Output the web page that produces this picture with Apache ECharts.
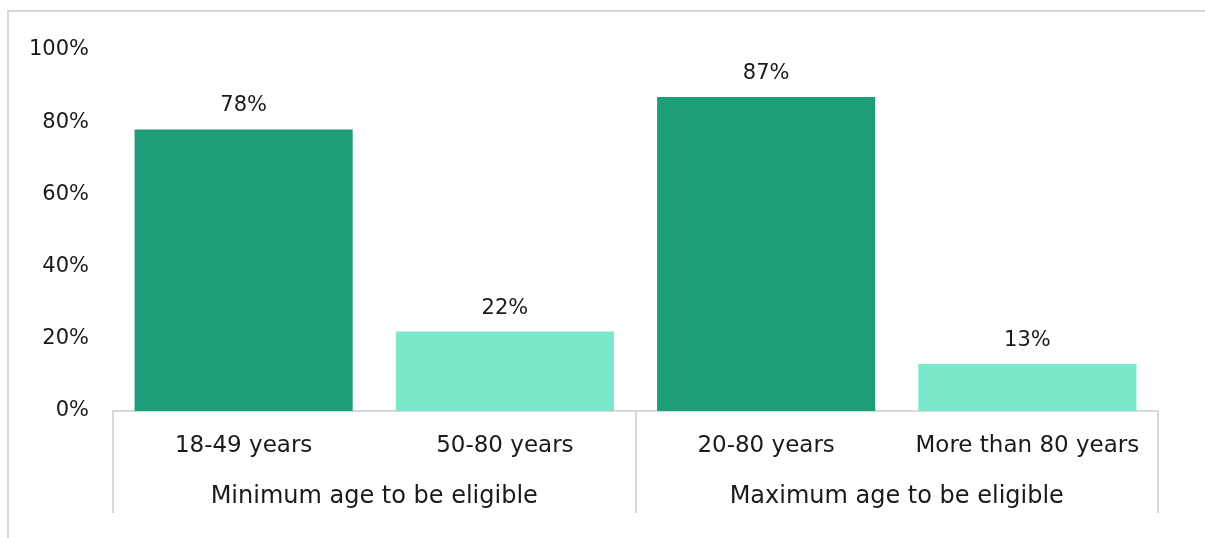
<!DOCTYPE html>
<html><head><meta charset="utf-8">
<script src="https://cdn.jsdelivr.net/npm/echarts@6/dist/echarts.min.js"></script>
<style>
html,body{margin:0;padding:0;background:#fff;overflow:hidden;}
#frame{position:absolute;left:7px;top:10px;width:1400px;height:600px;border:2px solid #D9D9D9;box-sizing:border-box;}
#c{position:absolute;left:0;top:0;width:1205px;height:538px;}
</style></head>
<body><div id="frame"></div><div id="c"></div>
<script>
const categories = ["18-49 years", "50-80 years", "20-80 years", "More than 80 years"];
const groups = ["Minimum age to be eligible", "Maximum age to be eligible"];
const values = [78, 22, 87, 13];
const yTicks = [0, 20, 40, 60, 80, 100];
const barColors = ["#1E9E78", "#7AE8C9", "#1E9E78", "#7AE8C9"];

const font = "DejaVu Sans";
const chart = echarts.init(document.getElementById('c'));
chart.setOption({
  animation: false,
  textStyle: {fontFamily: font},
  grid: {left: 113, right: 47, top: 50, bottom: 127},
  xAxis: [{
    type: 'category', data: categories, position: 'bottom',
    axisLine: {lineStyle: {color: '#D9D9D9', width: 2}},
    axisTick: {show: true, length: 102, interval: (i) => i % 2 === 0, lineStyle: {color: '#D9D9D9', width: 2}, alignWithLabel: false},
    axisLabel: {color: '#1a1a1a', fontSize: 23, fontFamily: font, margin: 24, interval: 0}
  }, {
    type: 'category', data: groups, position: 'bottom', offset: 74,
    axisLine: {show: false}, axisTick: {show: false},
    axisLabel: {color: '#1a1a1a', fontSize: 24, fontFamily: font, margin: 0, interval: 0}
  }],
  yAxis: {
    type: 'value', min: yTicks[0], max: yTicks[yTicks.length-1], interval: 20,
    axisLine: {show: false}, axisTick: {show: false}, splitLine: {show: false},
    axisLabel: {formatter: '{value}%', color: '#1a1a1a', fontSize: 21, fontFamily: font, margin: 24, padding: [5, 0, 0, 0]}
  },
  series: [{
    type: 'bar', xAxisIndex: 0, barCategoryGap: '16.5%',
    data: values.map((v, i) => ({value: v, itemStyle: {color: barColors[i]}})),
    label: {show: true, position: 'top', distance: 13, formatter: '{c}%', color: '#1a1a1a', fontSize: 21, fontFamily: font}
  }]
});
</script></body></html>
